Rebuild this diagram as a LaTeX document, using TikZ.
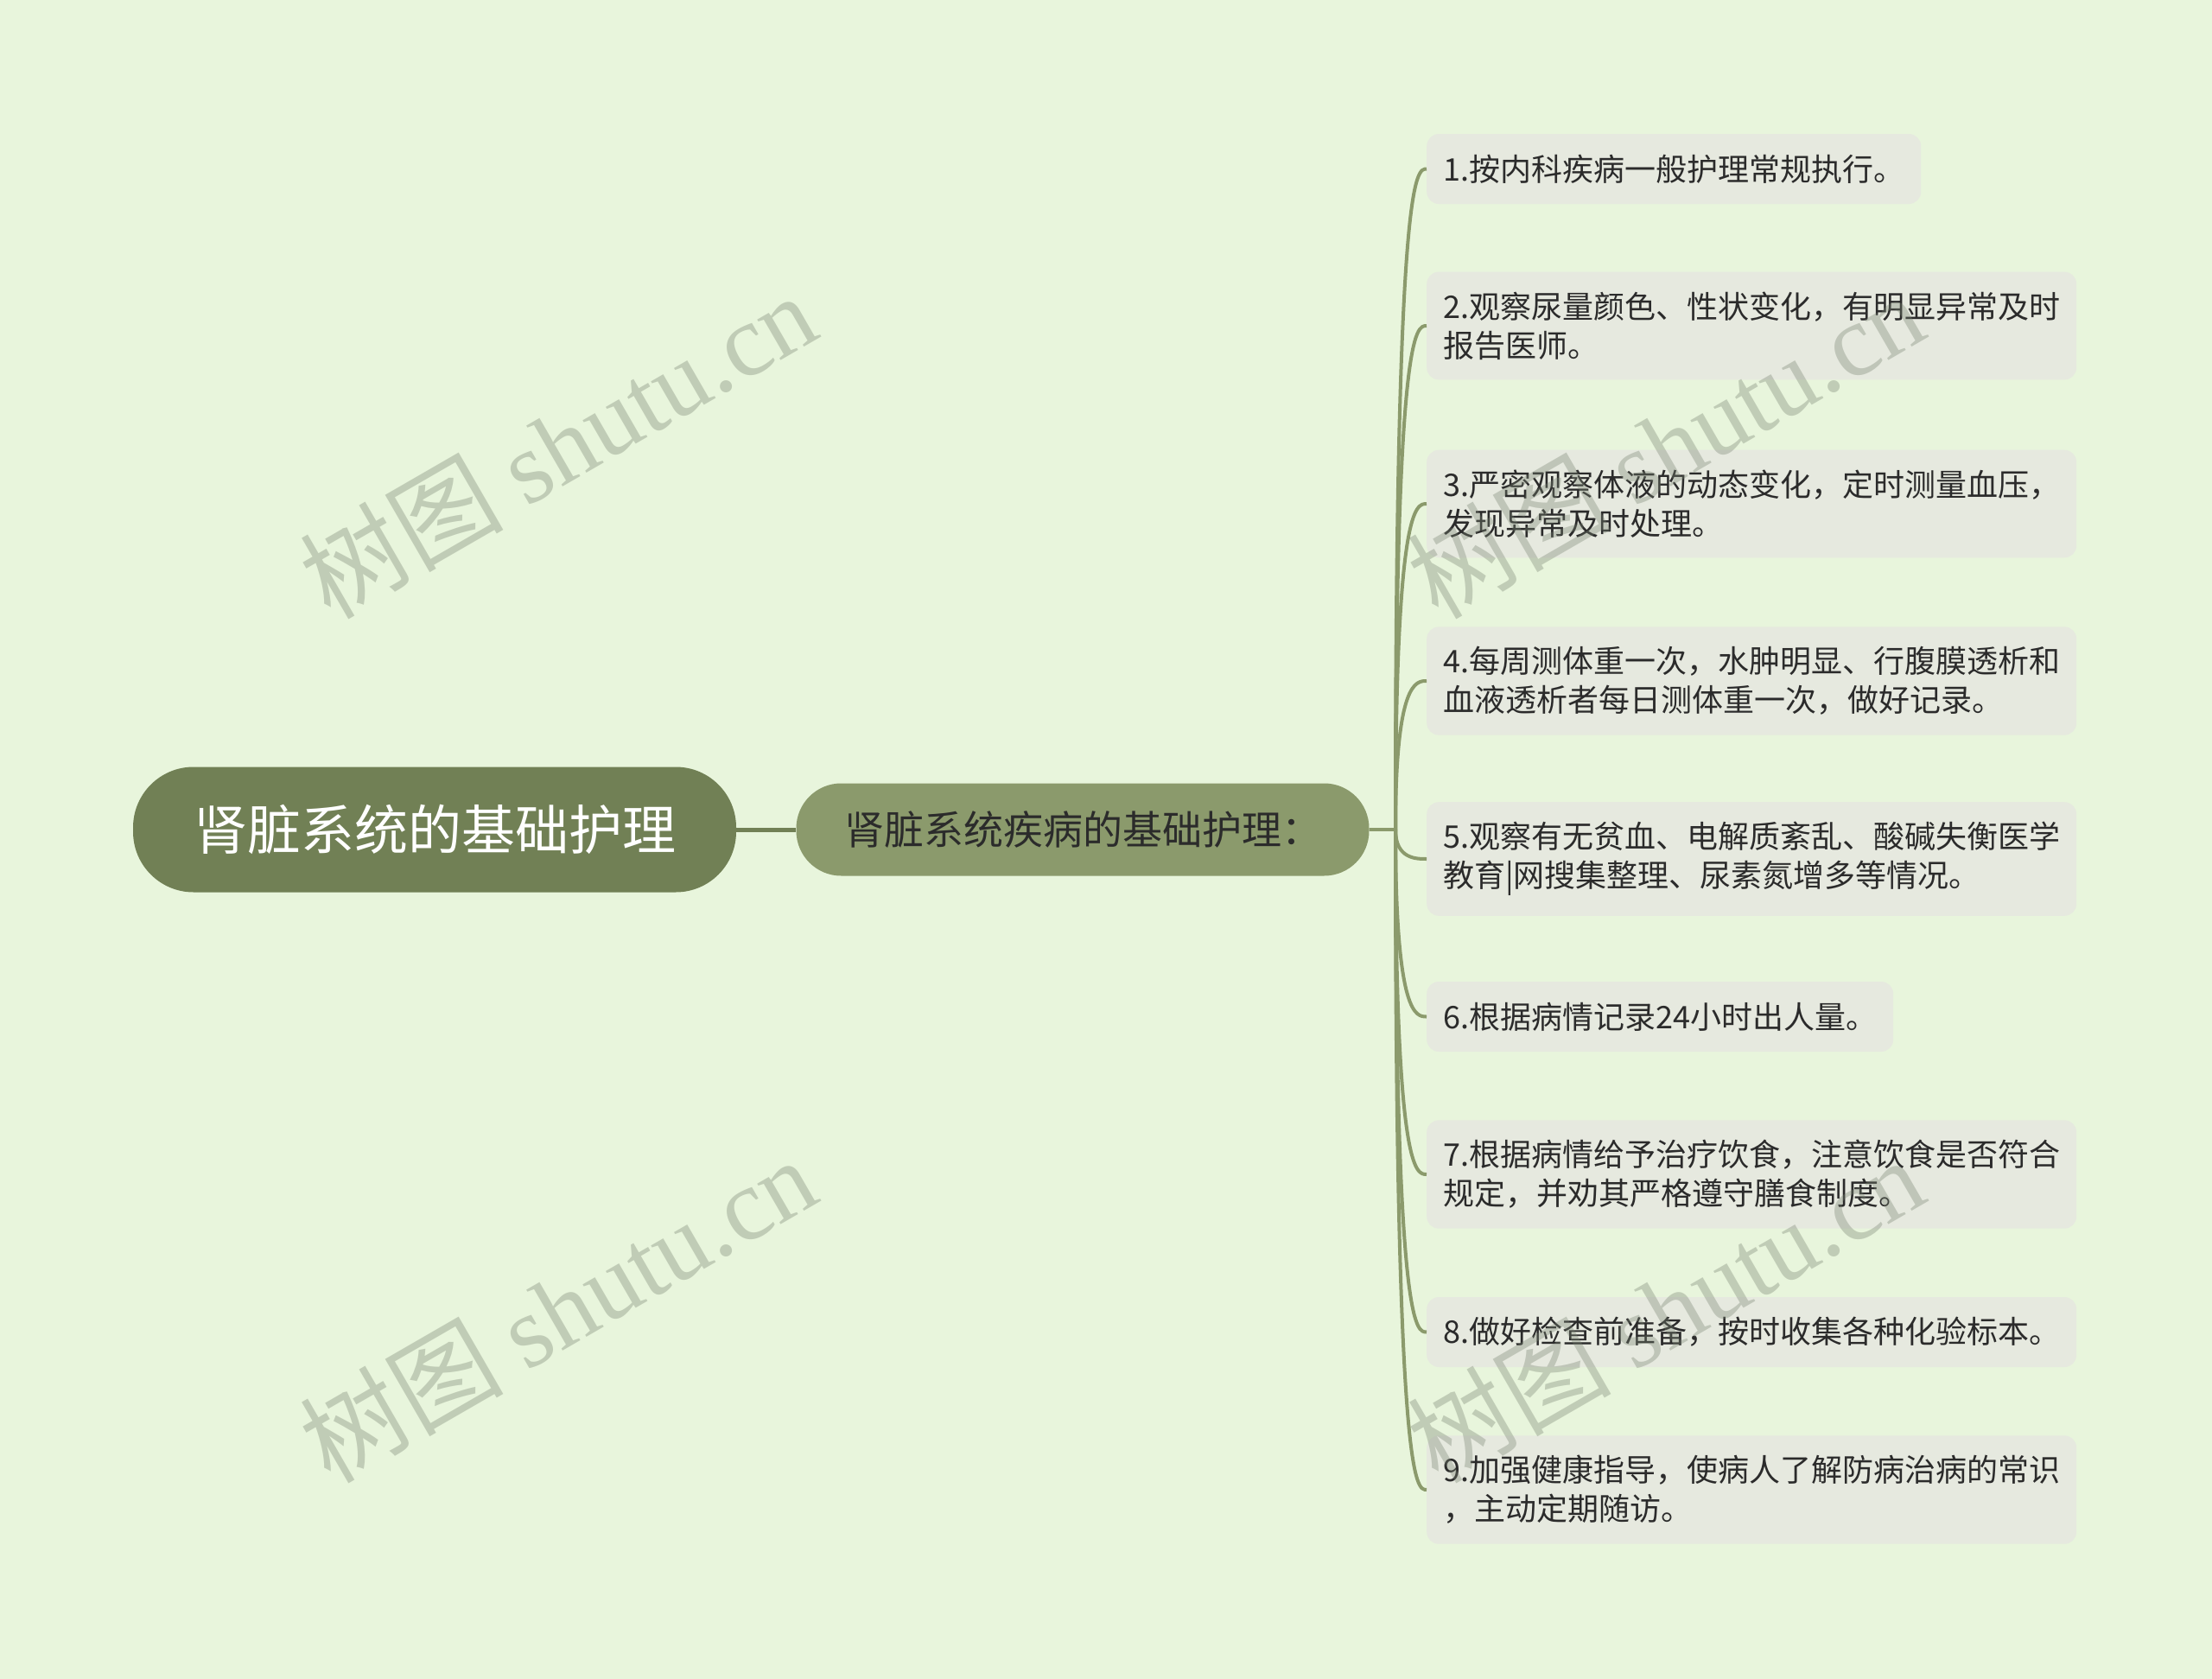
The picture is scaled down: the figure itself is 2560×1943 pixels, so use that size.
\documentclass[tikz,border=0pt]{standalone}
\usepackage{fontspec}
\setmainfont{Noto Sans CJK SC}
\newfontfamily\wmlatin{Liberation Serif}

\definecolor{bgcol}{HTML}{E8F5DC}
\definecolor{rootcol}{HTML}{718055}
\definecolor{subcol}{HTML}{8B9A6C}
\definecolor{leafcol}{HTML}{E6E9DF}
\definecolor{linkcol}{HTML}{8B9A6C}
\definecolor{textcol}{HTML}{2B2B2B}
\definecolor{wmcol}{HTML}{788270}

\begin{document}
\begin{tikzpicture}[x=1pt,y=-1pt,
    root/.style={fill=rootcol, text=white, rounded corners=70pt,
      minimum width=698pt, minimum height=145pt,
      font=\fontsize{62}{70}\selectfont},
    topic/.style={fill=subcol, text=textcol, rounded corners=52pt,
      minimum width=663pt, minimum height=107pt,
      font=\fontsize{46}{52}\selectfont},
    leaf/.style={fill=leafcol, text=textcol, rounded corners=14pt,
      anchor=west, align=left, inner xsep=19pt, inner ysep=23pt,
      minimum height=81pt, font=\fontsize{36}{45}\selectfont},
    link/.style={draw=linkcol, line width=4pt},
    wmark/.style={text=wmcol, text opacity=0.35, rotate=30,
      font=\fontsize{118}{120}\selectfont}]
  % page
  \fill[bgcol] (0,0) rectangle (2560,1943);
  \useasboundingbox (0,0) rectangle (2560,1943);

  \node[root] (R) at (503,960) {肾脏系统的基础护理};
  \node[topic] (S) at (1253,960) {肾脏系统疾病的基础护理：};
  \coordinate (hub) at (1615,960);

  \node[leaf] (L1) at (1651,195.5) {1.按内科疾病一般护理常规执行。};
  \node[leaf] (L2) at (1651,377) {2.观察尿量颜色、性状变化，有明显异常及时\\报告医师。};
  \node[leaf] (L3) at (1651,583) {3.严密观察体液的动态变化，定时测量血压，\\发现异常及时处理。};
  \node[leaf] (L4) at (1651,788) {4.每周测体重一次，水肿明显、行腹膜透析和\\血液透析者每日测体重一次，做好记录。};
  \node[leaf] (L5) at (1651,994) {5.观察有无贫血、电解质紊乱、酸碱失衡医学\\教育|网搜集整理、尿素氮增多等情况。};
  \node[leaf] (L6) at (1651,1176.5) {6.根据病情记录24小时出人量。};
  \node[leaf] (L7) at (1651,1359) {7.根据病情给予治疗饮食，注意饮食是否符合\\规定，并劝其严格遵守膳食制度。};
  \node[leaf] (L8) at (1651,1541.5) {8.做好检查前准备，按时收集各种化验标本。};
  \node[leaf] (L9) at (1651,1724) {9.加强健康指导，使病人了解防病治病的常识\\，主动定期随访。};

  \draw[link, draw=rootcol, line width=5pt] (R) -- (S);
  \draw[link] (S) -- (hub);
  \foreach \i in {1,...,9}
    \draw[link] (hub) .. controls (hub |- L\i.west) and ([xshift=-12pt]L\i.west) .. (L\i.west);

  % watermark
  \foreach \wx/\wy [count=\k] in {645/515, 1927/515, 645/1515, 1927/1515}
    \node[wmark] (W\k) at (\wx,\wy) {树图 {\wmlatin shutu.cn}};
\end{tikzpicture}
\end{document}
